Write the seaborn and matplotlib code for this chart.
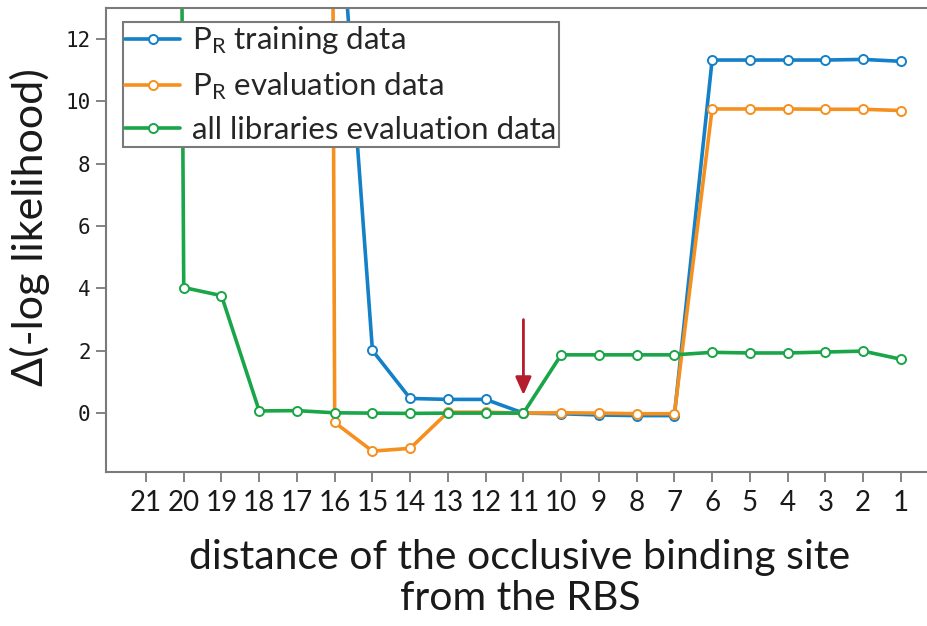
import numpy as np
import pandas as pd
import matplotlib
matplotlib.use("Agg")
import matplotlib.pyplot as plt
import seaborn as sns

# ---- data ----
distance = [21, 20, 19, 18, 17, 16, 15, 14, 13, 12, 11, 10, 9, 8, 7, 6, 5, 4, 3, 2, 1]
pr_training = [np.nan, np.nan, np.nan, np.nan, np.nan, 18.6, 2.01, 0.47, 0.44, 0.44, 0.0,
               -0.02, -0.06, -0.08, -0.08, 11.33, 11.33, 11.33, 11.33, 11.35, 11.29]
pr_evaluation = [np.nan, np.nan, np.nan, np.nan, 300.0, -0.30, -1.22, -1.13, 0.03, 0.03, 0.0,
                 0.01, 0.0, -0.02, -0.02, 9.76, 9.76, 9.76, 9.75, 9.75, 9.71]
all_libraries = [200.0, 4.03, 3.77, 0.07, 0.08, 0.01, 0.0, -0.01, 0.0, 0.0, 0.0,
                 1.87, 1.87, 1.87, 1.87, 1.95, 1.93, 1.93, 1.96, 1.99, 1.73]
series_names = ["P$_\\mathrm{R}$ training data", "P$_\\mathrm{R}$ evaluation data",
                "all libraries evaluation data"]
series_colors = ["#1380c8", "#f5901f", "#1aa548"]
y_ticks = [0, 2, 4, 6, 8, 10, 12]
arrow_x = 11
arrow_from = 3.0
arrow_to = 0.58

sns.set_style("white")
label_font = ["Lato", "DejaVu Sans"]
plt.rcParams["font.family"] = label_font
plt.rcParams["mathtext.fontset"] = "custom"
plt.rcParams["mathtext.rm"] = "Lato"
plt.rcParams["mathtext.it"] = "Lato:italic"

fig = plt.figure(figsize=(9.28, 6.26), dpi=100)
ax = fig.add_axes([106 / 928, 1 - 471.7 / 626, 1 - 106 / 928, (471.7 - 8) / 626])

for name, vals, col in zip(series_names, [pr_training, pr_evaluation, all_libraries], series_colors):
    df = pd.DataFrame({"distance": distance, "value": vals})
    sns.lineplot(data=df, x="distance", y="value", ax=ax, color=col, lw=2.6,
                 marker="o", markersize=6.5, markerfacecolor="white",
                 markeredgecolor=col, markeredgewidth=1.4, label=name)

ax.set_xlim(22.06, 0.28)
ax.set_ylim(-1.88, 13.0)
ax.set_xticks(distance)
ax.set_xticklabels([str(d) for d in distance])
ax.set_yticks(y_ticks)
ax.set_yticklabels([str(v) for v in y_ticks])
ax.set_xlabel("")
ax.set_ylabel("")

for lab in ax.get_yticklabels():
    lab.set_family(["DejaVu Sans Mono"])
    lab.set_fontsize(15)
for lab in ax.get_xticklabels():
    lab.set_family(["Lato", "DejaVu Sans"])
    lab.set_fontsize(20)

ax.tick_params(axis="both", which="both", direction="out", color="#7a7a7a",
               width=1.3, length=7, bottom=True, left=True, labelcolor="#1a1a1a")
ax.tick_params(axis="x", pad=6)
ax.tick_params(axis="y", pad=4)

for s in ["top", "left", "bottom"]:
    ax.spines[s].set_color("#7a7a7a")
    ax.spines[s].set_linewidth(1.5)
ax.spines["right"].set_visible(False)

ax.annotate("", xy=(arrow_x, arrow_to), xytext=(arrow_x, arrow_from),
            arrowprops=dict(arrowstyle="-|>,head_length=0.9,head_width=0.4",
                            color="#b51c2e", lw=2, mutation_scale=12,
                            shrinkA=0, shrinkB=0))

leg = ax.legend(loc="upper left", borderaxespad=0,
                fontsize=22.5, frameon=True, fancybox=False, handlelength=1.75,
                handletextpad=0.38, labelspacing=0.45, borderpad=0.08)
leg.get_frame().set_edgecolor("#7a7a7a")
leg.get_frame().set_linewidth(1.5)
leg.get_frame().set_alpha(1)
leg.set_bbox_to_anchor(((122.7 - 106) / (928 - 106), (471.7 - 22) / 463.7), transform=ax.transAxes)

fig.text(30 / 928, 1 - 227 / 626, "Δ(-log likelihood)", rotation=90, ha="center", va="center",
         fontsize=31, color="#1a1a1a")
fig.text(520 / 928, 1 - 578 / 626, "distance of the occlusive binding site\nfrom the RBS",
         ha="center", va="center", fontsize=29.5, linespacing=1.15, color="#1a1a1a")

fig.savefig("out.png", dpi=100)
